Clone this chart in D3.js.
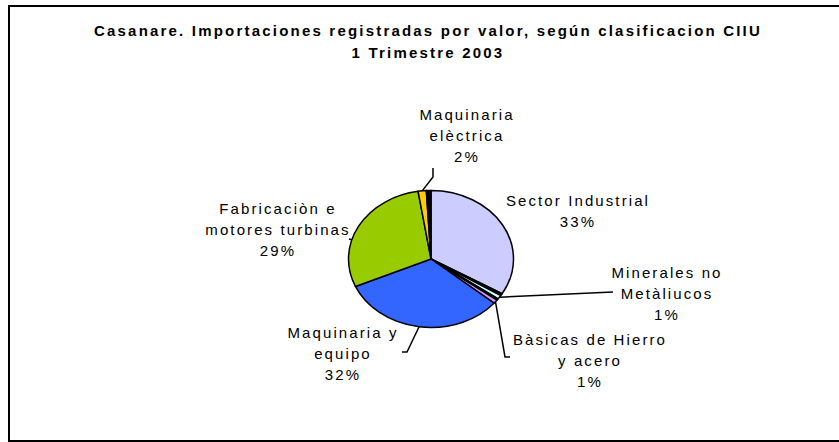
<!DOCTYPE html>
<html>
<head>
<meta charset="utf-8">
<script src="https://cdn.jsdelivr.net/npm/d3@7"></script>
<style>
  html, body { margin: 0; background: #fff; overflow: hidden; }
  svg { display: block; }
  text { font-family: "Liberation Sans", Arial, sans-serif; fill: #000; }
</style>
</head>
<body>
<script>
// datos (porcentajes)
var categorias = ["Sector Industrial", "otro1", "Minerales no Metàliucos", "otro2",
  "Bàsicas de Hierro y acero", "Maquinaria y equipo", "Fabricaciòn e motores turbinas",
  "Maquinaria elèctrica", "otro3"];
var valores = [33.4, 0.5, 0.9, 0.4, 0.9, 32.2, 29.0, 1.6, 0.9];
var colores = ["#CCCCFF", "#000000", "#CCFFFF", "#000000", "#CC99FF",
  "#3366FF", "#99CC00", "#FFCC00", "#000000"];
var lineasEtiqueta = [["Sector Industrial"], null, ["Minerales no", "Metàliucos"], null,
  ["Bàsicas de Hierro", "y acero"], ["Maquinaria y", "equipo"],
  ["Fabricaciòn e", "motores turbinas"], ["Maquinaria", "elèctrica"], null];
var titulo = ["Casanare. Importaciones registradas por valor, según clasificacion CIIU",
  "1 Trimestre 2003"];

// layout de etiquetas: [x centro, baseline primera linea]
var posEtiqueta = [[578, 206], null, [667, 278], null, [590, 345], [343, 338], [278, 214], [467, 120], null];
// puntos de las lineas guia (fuera del pastel)
var guias = [null, null, [[613, 292]], null, [[505, 357], [510, 357]], [[407, 352], [402, 352]],
  [[349, 239]], [[433, 177], [433, 168]], null];

var width = 839, height = 442;
var cx = 431, cy = 259, rx = 82.5, ry = 68.5;

var svg = d3.select("body").append("svg")
  .attr("width", width)
  .attr("height", height);

// marco
svg.append("rect")
  .attr("x", 9).attr("y", 6)
  .attr("width", 840).attr("height", 435)
  .attr("fill", "none")
  .attr("stroke", "#000")
  .attr("stroke-width", 2);

svg.append("g").selectAll("text")
  .data(titulo)
  .enter().append("text")
    .attr("x", 428)
    .attr("y", function(d, i) { return 36 + i * 22; })
    .attr("text-anchor", "middle")
    .style("font-size", "15px")
    .style("font-weight", "bold")
    .style("letter-spacing", "2.2px")
    .text(function(d) { return d; });

var pie = d3.pie().sort(null).value(function(d) { return d; });
var arcos = pie(valores);
var arc = d3.arc().innerRadius(0).outerRadius(rx);

var g = svg.append("g")
  .attr("transform", "translate(" + cx + "," + cy + ") scale(1," + (ry / rx) + ")");

g.selectAll("path")
  .data(arcos)
  .enter().append("path")
    .attr("d", arc)
    .attr("fill", function(d, i) { return colores[i]; })
    .attr("stroke", "#000")
    .attr("stroke-width", 1.5)
    .attr("stroke-linejoin", "round")
    .attr("vector-effect", "non-scaling-stroke");

function borde(a) {
  return [cx + rx * Math.sin(a), cy - ry * Math.cos(a)];
}

var total = d3.sum(valores);
var fmt = function(v) { return Math.round(v / total * 100) + "%"; };

arcos.forEach(function(d, i) {
  if (guias[i]) {
    var inicio;
    if (i === 6) {
      var p = guias[i][0];
      inicio = borde(Math.atan2(p[0] - cx, -(p[1] - cy) * rx / ry));
    } else {
      inicio = borde((d.startAngle + d.endAngle) / 2);
    }
    svg.append("path")
      .attr("d", d3.line()([inicio].concat(guias[i])))
      .attr("fill", "none")
      .attr("stroke", "#000")
      .attr("stroke-width", 1.5);
  }
  if (lineasEtiqueta[i]) {
    var lineas = lineasEtiqueta[i].concat([fmt(valores[i])]);
    svg.append("g").selectAll("text")
      .data(lineas)
      .enter().append("text")
        .attr("x", posEtiqueta[i][0])
        .attr("y", function(t, j) { return posEtiqueta[i][1] + j * 21; })
        .attr("text-anchor", "middle")
        .style("font-size", "15px")
        .style("letter-spacing", "2.1px")
        .text(function(t) { return t; });
  }
});
</script>
</body>
</html>
